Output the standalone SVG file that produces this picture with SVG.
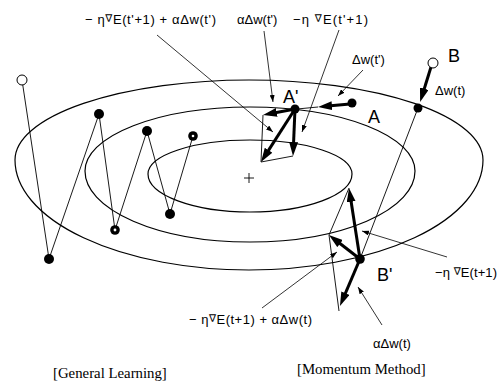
<svg xmlns="http://www.w3.org/2000/svg" width="502" height="383" viewBox="0 0 502 383">
<style>
.contour{fill:none;stroke:#000;stroke-width:1.2}
.thin{fill:none;stroke:#000;stroke-width:0.9}
.thick{fill:none;stroke:#000;stroke-width:3;marker-end:url(#bigHead)}
.ptr{fill:none;stroke:#000;stroke-width:0.8;marker-end:url(#smallHead)}
.dot{fill:#000}
.hole{fill:#fff}
.open{fill:#fff;stroke:#000;stroke-width:1}
.lbl{font-family:"Liberation Sans","DejaVu Sans",sans-serif;font-size:13px;fill:#000}
.big{font-family:"Liberation Sans","DejaVu Sans",sans-serif;font-size:18px;fill:#000}
.cap{font-family:"Liberation Serif","DejaVu Serif",serif;font-size:14.8px;fill:#000}
.nab{font-size:10.5px}
</style>
<defs>
<marker id="bigHead" markerUnits="userSpaceOnUse" markerWidth="14" markerHeight="9" viewBox="0 0 14 9" refX="7" refY="4.5" orient="auto"><path d="M0,0 L14,4.5 L0,9 z" fill="#000"/></marker>
<marker id="smallHead" markerUnits="userSpaceOnUse" markerWidth="7" markerHeight="5" viewBox="0 0 7 5" refX="7" refY="2.5" orient="auto"><path d="M0,0 L7,2.5 L0,5 z" fill="#000"/></marker>
</defs>
<rect width="502" height="383" fill="#fff"/>
<g id="contours">
<path class="contour" d="M15,160 A234,80 0 0 1 483,160 A234,110 0 0 1 15,160 Z"/>
<path class="contour" d="M85,171 A165,64 0 0 1 415,171 A165,71 0 0 1 85,171 Z"/>
<path class="contour" d="M148,174 A102,34 0 0 1 352,174 A102,38 0 0 1 148,174 Z"/>
<path class="thin" d="M244,178 H254 M249,173 V183" stroke-width="1.4"/>
</g>
<g id="connectors">
<polyline class="thin" points="22,80 49,259 99,114 115,230 147,131 170,214 193,136"/>
<line class="thick" x1="350" y1="104" x2="325" y2="106.3"/>
<line class="thin" x1="318" y1="107" x2="297" y2="109"/>
<line class="thick" x1="295" y1="109" x2="269.9" y2="113.7"/>
<line class="thick" x1="295" y1="109" x2="293.3" y2="149"/>
<line class="thick" x1="295" y1="109" x2="264.8" y2="156.1"/>
<polyline class="thin" points="263,115 261,162 293,156"/>
<line class="thick" x1="431" y1="67" x2="422.2" y2="95.4"/>
<line class="thin" x1="418" y1="108" x2="360" y2="259"/>
<line class="thick" x1="360" y1="259" x2="350.1" y2="194.9"/>
<line class="thick" x1="360" y1="259" x2="334.5" y2="239.3"/>
<line class="thick" x1="360" y1="259" x2="342.7" y2="299.6"/>
<polyline class="thin" points="349,188 329,235 339,311"/>
<line class="ptr" x1="157" y1="35" x2="273" y2="132"/>
<line class="ptr" x1="264" y1="31" x2="273" y2="102"/>
<line class="ptr" x1="339" y1="30" x2="302" y2="132"/>
<line class="ptr" x1="363" y1="70" x2="338" y2="96"/>
<line class="ptr" x1="447" y1="257" x2="362" y2="231"/>
<line class="ptr" x1="262" y1="308" x2="337" y2="252"/>
<line class="ptr" x1="382" y1="325" x2="358" y2="287"/>
</g>
<g id="gl-start"><circle class="open" cx="22" cy="80" r="5"/></g>
<g id="gl-1"><circle class="dot" cx="49" cy="259" r="5"/></g>
<g id="gl-2"><circle class="dot" cx="99" cy="114" r="5"/></g>
<g id="gl-3"><circle class="dot" cx="115" cy="230" r="4.8"/><circle class="hole" cx="115" cy="230" r="1.4"/></g>
<g id="gl-4"><circle class="dot" cx="147" cy="131" r="5"/></g>
<g id="gl-5"><circle class="dot" cx="170" cy="214" r="5"/></g>
<g id="gl-6"><circle class="dot" cx="193" cy="136" r="4.8"/><circle class="hole" cx="193" cy="136" r="1.3"/></g>
<g id="node-A"><circle class="dot" cx="352" cy="103" r="4.5"/><text class="big" x="368" y="123">A</text></g>
<g id="node-A-prime"><circle class="dot" cx="295" cy="109" r="4.5"/><text class="big" x="283" y="103" font-size="17">A'</text></g>
<g id="node-B"><circle class="open" cx="433" cy="63" r="5"/><text class="big" x="448" y="62">B</text></g>
<g id="node-B-hit"><circle class="dot" cx="418" cy="108" r="4.5"/></g>
<g id="node-B-prime"><circle class="dot" cx="360" cy="259" r="4.8"/><text class="big" x="377" y="281">B'</text></g>
<g id="labels">
<text class="lbl" x="85" y="24" textLength="131">− η<tspan class="nab" dy="-2.5">∇</tspan><tspan dy="2.5">E(t'+1) + αΔw(t')</tspan></text>
<text class="lbl" x="237" y="24">αΔw(t')</text>
<text class="lbl" x="293" y="24" textLength="75">−η <tspan class="nab" dy="-2.5">∇</tspan><tspan dy="2.5">E(t'+1)</tspan></text>
<text class="lbl" x="352" y="64" font-size="14">Δw(t')</text>
<text class="lbl" x="435" y="95">Δw(t)</text>
<text class="lbl" x="435" y="277" textLength="62">−η <tspan class="nab" dy="-2.5">∇</tspan><tspan dy="2.5">E(t+1)</tspan></text>
<text class="lbl" x="189" y="324" textLength="123">− η<tspan class="nab" dy="-2.5">∇</tspan><tspan dy="2.5">E(t+1) + αΔw(t)</tspan></text>
<text class="lbl" x="373" y="348">αΔw(t)</text>
<text class="cap" x="53" y="378">[General Learning]</text>
<text class="cap" x="297" y="374" font-size="14.3">[Momentum Method]</text>
</g>
</svg>
